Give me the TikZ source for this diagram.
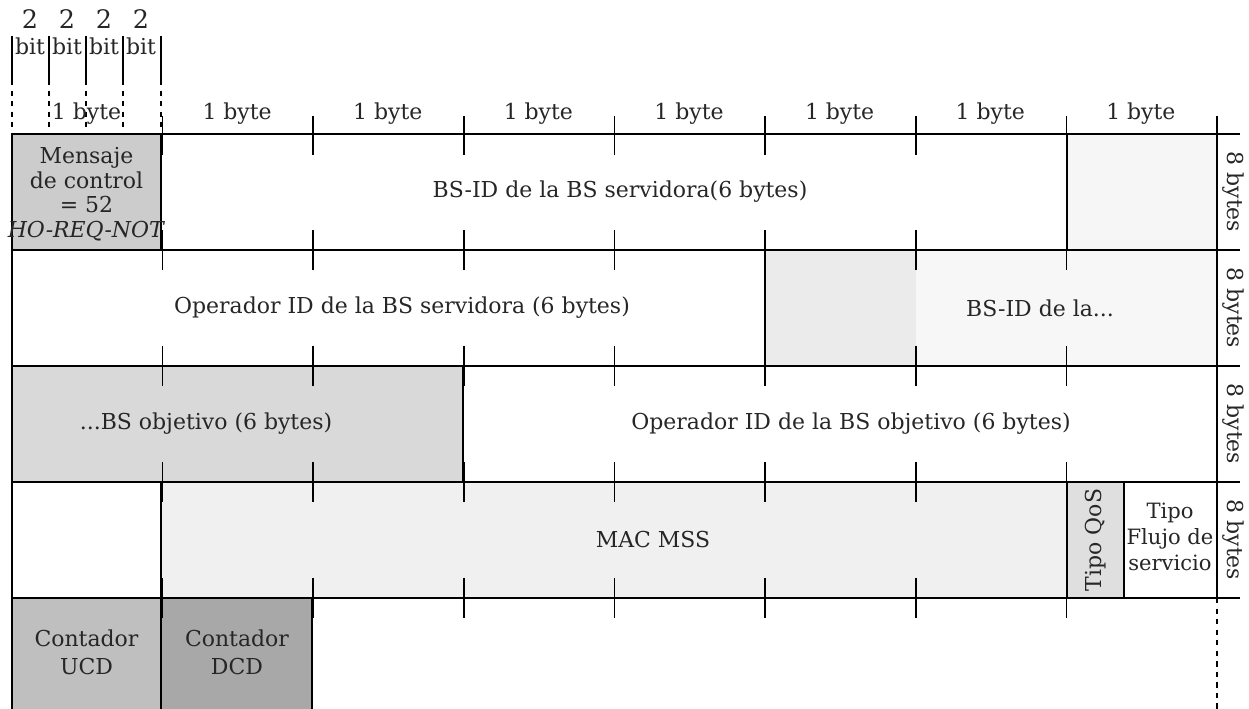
\documentclass[tikz,border=0pt]{standalone}
\usepackage{fontspec}
\setmainfont{DejaVu Serif}
\usetikzlibrary{calc}

\begin{document}
\begin{tikzpicture}[x=0.02cm, y=-0.02cm, line width=0.9pt,
    lbl/.style={inner sep=1pt, align=center, text=black!85, font=\fontsize{12.5}{14.5}\selectfont},
    small/.style={inner sep=1pt, align=center, text=black!85, font=\fontsize{12.5}{14}\selectfont},
    tick/.style={line width=0.9pt},
    bitline/.style={line width=0.7pt}]
    \useasboundingbox (0,0) rectangle (1249,709);

    % Shaded fields
    \fill[gray!40] (12,134) rectangle (161,250);
    \fill[gray!7] (1067,134) rectangle (1217,250);
    \fill[gray!16] (765,250) rectangle (916,366);
    \fill[gray!6] (916,250) rectangle (1217,366);
    \fill[gray!30] (12,366) rectangle (463,482);
    \fill[gray!12] (161,482) rectangle (1067,598);
    \fill[gray!25] (1067,482) rectangle (1124,598);
    \fill[gray!50] (12,598) rectangle (161,709);
    \fill[gray!68] (161,598) rectangle (312,709);

    % Bit scale of the first byte
    \foreach \i/\bx in {1/30, 2/67, 3/104, 4/141} {
        \node[lbl, font=\fontsize{14.5}{16}\selectfont] (two\i) at (\bx,19) {2};
        \node[small, font=\fontsize{12.5}{14}\selectfont] (bit\i) at (\bx,46) {bit};
    }
    \foreach \bx in {12, 49, 86, 123, 161} {
        \draw[bitline] (\bx,36) -- (\bx,80);
        \draw[bitline, dashed] (\bx,80) -- (\bx,134);
    }

    % Byte labels and header ticks
    \foreach \c in {0,...,7} {
        \node[small] (byte\c) at ({86.5+150.625*\c},114) {1 byte};
    }
    \foreach \c in {1,...,8} {
        \draw[tick] ({12+150.625*\c},116) -- ({12+150.625*\c},134);
    }
    \foreach \c in {1,...,7} {
        \draw[tick] ({12+150.625*\c},134) -- ({12+150.625*\c},155);
    }

    % Row lines and ticks
    \foreach \ry in {134, 250, 366, 482, 598} {
        \draw (12,\ry) -- (1240,\ry);
    }
    \foreach \ry in {250, 366, 482, 598} {
        \foreach \c in {1,...,7} {
            \draw[tick] ({12+150.625*\c},\ry-20) -- ({12+150.625*\c},\ry+20);
        }
    }

    % Outer borders
    \draw (12,134) -- (12,709);
    \draw (1217,116) -- (1217,598);
    \draw[dashed] (1217,598) -- (1217,709);

    % Field borders
    \draw (161,134) -- (161,250);
    \draw (1067,134) -- (1067,250);
    \draw (765,250) -- (765,366);
    \draw (463,366) -- (463,482);
    \draw (161,482) -- (161,598);
    \draw (1067,482) -- (1067,598);
    \draw (1124,482) -- (1124,598);
    \draw (161,598) -- (161,709);
    \draw (312,598) -- (312,709);

    % Field labels
    \node[lbl, font=\fontsize{12.5}{14}\selectfont] (msg) at (86.5,194) {Mensaje\\de control\\= 52\\\textit{HO-REQ-NOT}};
    \node[lbl] (bsserv) at (620,192) {BS-ID de la BS servidora(6 bytes)};
    \node[lbl] (opserv) at (402,308) {Operador ID de la BS servidora (6 bytes)};
    \node[lbl] (bsobj1) at (1040,308) {BS-ID de la...};
    \node[lbl] (bsobj2) at (206,424) {...BS objetivo (6 bytes)};
    \node[lbl] (opobj) at (851,424) {Operador ID de la BS objetivo (6 bytes)};
    \node[lbl] (mac) at (653,540) {MAC MSS};
    \node[lbl, rotate=90] (qos) at (1096,540) {Tipo QoS};
    \node[lbl, font=\fontsize{12}{15}\selectfont] (flujo) at (1170,537) {Tipo\\Flujo de\\servicio};
    \node[lbl, font=\fontsize{12.5}{16}\selectfont] (ucd) at (86.5,652) {Contador\\UCD};
    \node[lbl, font=\fontsize{12.5}{16}\selectfont] (dcd) at (237,652) {Contador\\DCD};

    % Row sizes
    \foreach \r/\ry in {1/192, 2/308, 3/424, 4/540} {
        \node[small, rotate=-90] (size\r) at (1233,\ry) {8 bytes};
    }
\end{tikzpicture}
\end{document}
